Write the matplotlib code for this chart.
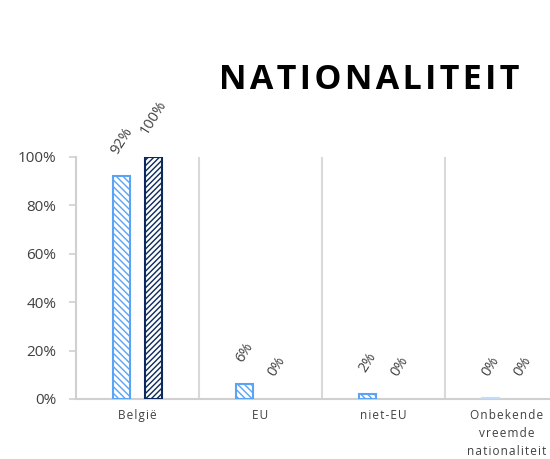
import matplotlib.pyplot as plt
import numpy as np

plt.rcParams['font.family'] = ['Open Sans', 'DejaVu Sans']
plt.rcParams['hatch.linewidth'] = 1.0

categories = ["België", "EU", "niet-EU", "Onbekende\nvreemde\nnationaliteit"]
serie_1 = [92, 6, 2, 0.3]
serie_2 = [100, 0, 0, 0]
labels_1 = ["92%", "6%", "2%", "0%"]
labels_2 = ["100%", "0%", "0%", "0%"]

light = "#5BA3F5"
dark = "#0B2A5B"
grey = "#404040"


def spaced(s):
    return "\n".join("\u200a".join(line) for line in s.split("\n"))


fig = plt.figure(figsize=(5.5, 4.59), dpi=100)
ax = fig.add_axes([76 / 550, 1 - 399 / 459, 492 / 550, 242 / 459])

x = np.arange(len(categories))
w = 0.14
off = 0.13
b1 = ax.bar(x - off, serie_1, w, facecolor="white", edgecolor=light, hatch="\\\\\\\\\\", linewidth=1.5, zorder=3)
b2 = ax.bar(x + off, serie_2, w, facecolor="white", edgecolor=dark, hatch="//////", linewidth=1.5, zorder=3)
for bars, vals in [(b1, serie_1), (b2, serie_2)]:
    for r, v in zip(bars, vals):
        if v == 0:
            r.set_visible(False)
b1[3].set_edgecolor("#c5dcf8")

for xi, v, t in zip(x - off, serie_1, labels_1):
    ax.annotate(t, (xi, v), xytext=(0, 14), textcoords="offset points", ha="center", va="bottom",
                rotation=58, fontsize=10.5, color=grey)
for xi, v, t in zip(x + off, serie_2, labels_2):
    ax.annotate(t, (xi, v), xytext=(0, 14), textcoords="offset points", ha="center", va="bottom",
                rotation=58, fontsize=10.5, color=grey)

ax.set_xlim(-0.5, 3.5)
ax.set_ylim(0, 100)
ax.set_yticks([0, 20, 40, 60, 80, 100])
ax.set_yticklabels([f"{v}%" for v in [0, 20, 40, 60, 80, 100]], fontsize=11, color=grey)
ax.set_xticks(x)
ax.set_xticklabels([spaced(c) for c in categories], fontsize=8.5, color=grey, linespacing=1.5)
ax.tick_params(axis="x", length=0, pad=7)
ax.tick_params(axis="y", length=5, color="#d0d0d0", width=1.2, pad=9)

for b in [0.5, 1.5, 2.5]:
    ax.axvline(b, color="#d9d9d9", linewidth=1.5, zorder=1)

for s in ["top", "right"]:
    ax.spines[s].set_visible(False)
ax.spines["left"].set_color("#d0d0d0")
ax.spines["left"].set_linewidth(1.5)
ax.spines["bottom"].set_color("#d0d0d0")
ax.spines["bottom"].set_linewidth(1.5)

fig.text(369 / 550, 1 - 80 / 459, "\u200a".join("NATIONALITEIT"), ha="center", va="center",
         fontsize=24.5, fontweight="bold", color="black")

fig.savefig("out.png", dpi=100)
